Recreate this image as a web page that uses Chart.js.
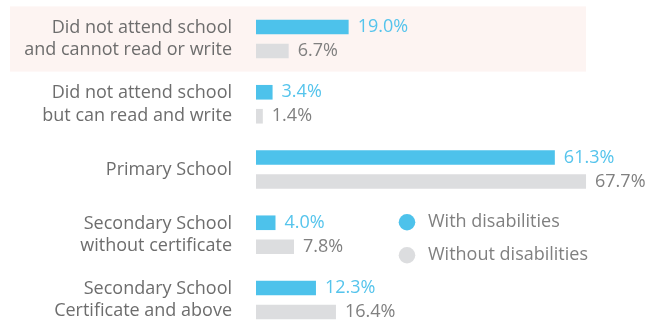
<!DOCTYPE html>
<html>
<head>
<meta charset="utf-8">
<script src="https://cdn.jsdelivr.net/npm/chart.js@4.4.1/dist/chart.umd.min.js"></script>
<style>
  html, body { margin: 0; padding: 0; background: #ffffff; }
  #wrap { width: 668px; height: 323px; }
</style>
</head>
<body>
<div id="wrap"><canvas id="chart" width="668" height="323"></canvas></div>
<script>
// Education level attained, share of people (%)
const categories = [
  ['Did not attend school', 'and cannot read or write'],
  ['Did not attend school', 'but can read and write'],
  'Primary School',
  ['Secondary School', 'without certificate'],
  ['Secondary School', 'Certificate and above']
];
const withDisabilities = [19.0, 3.4, 61.3, 4.0, 12.3];
const withoutDisabilities = [6.7, 1.4, 67.7, 7.8, 16.4];
const seriesNames = ['With disabilities', 'Without disabilities'];
const highlightedIndex = 0;

const BLUE = '#4dc2eb';
const GREY = '#dcdddf';
const BLUE_TEXT = '#55c4ec';
const GREY_TEXT = '#808080';
const LABEL_TEXT = '#6d6d6d';
const FONT = '"Open Sans", Lato, sans-serif';

// Soft band behind the highlighted category (painted before axes and bars)
const highlightBand = {
  id: 'highlightBand',
  beforeDraw(chart) {
    const y = chart.scales.y;
    const step = y.getPixelForValue(1) - y.getPixelForValue(0);
    const cy = y.getPixelForValue(highlightedIndex);
    const ctx = chart.ctx;
    ctx.save();
    ctx.fillStyle = '#fdf4f2';
    ctx.fillRect(10, cy - step / 2, 576, step);
    ctx.restore();
  }
};

// Percentage text after each bar
const valueLabels = {
  id: 'valueLabels',
  afterDatasetsDraw(chart) {
    const ctx = chart.ctx;
    ctx.save();
    ctx.font = '18px ' + FONT;
    ctx.textBaseline = 'middle';
    ctx.textAlign = 'left';
    chart.data.datasets.forEach((ds, di) => {
      const meta = chart.getDatasetMeta(di);
      ctx.fillStyle = di === 0 ? BLUE_TEXT : GREY_TEXT;
      meta.data.forEach((bar, i) => {
        ctx.fillText(ds.data[i].toFixed(1) + '%', bar.x + 9, bar.y);
      });
    });
    ctx.restore();
  }
};

// Dot legend placed inside the plot
const dotLegend = {
  id: 'dotLegend',
  afterDraw(chart) {
    const ctx = chart.ctx;
    const y = chart.scales.y;
    const cy = y.getPixelForValue(3);
    const x0 = 407;
    ctx.save();
    ctx.font = '18px ' + FONT;
    ctx.textBaseline = 'middle';
    ctx.textAlign = 'left';
    chart.data.datasets.forEach((ds, di) => {
      const yy = cy - 12.5 + di * 33;
      ctx.beginPath();
      ctx.arc(x0, yy, 8.3, 0, Math.PI * 2);
      ctx.fillStyle = ds.backgroundColor;
      ctx.fill();
      ctx.fillStyle = GREY_TEXT;
      ctx.fillText(ds.label, x0 + 21, yy);
    });
    ctx.restore();
  }
};

new Chart(document.getElementById('chart'), {
  type: 'bar',
  data: {
    labels: categories,
    datasets: [
      { label: seriesNames[0], data: withDisabilities, backgroundColor: BLUE },
      { label: seriesNames[1], data: withoutDisabilities, backgroundColor: GREY }
    ]
  },
  options: {
    indexAxis: 'y',
    responsive: false,
    animation: false,
    devicePixelRatio: 1,
    layout: { padding: { top: 39, bottom: 23, left: 0, right: 22 } },
    datasets: {
      bar: { categoryPercentage: 0.735, barPercentage: 0.61, clip: false }
    },
    plugins: {
      legend: { display: false },
      tooltip: { enabled: false }
    },
    scales: {
      x: {
        min: 0,
        max: 80,
        display: false
      },
      y: {
        offset: false,
        grid: { display: false, drawTicks: false },
        border: { display: false },
        afterFit(scale) {
          scale.width = 256;
          scale.paddingTop = 0;
          scale.paddingBottom = 0;
        },
        ticks: {
          autoSkip: false,
          padding: 24,
          color: LABEL_TEXT,
          font: { family: FONT, size: 18, lineHeight: 1.25 }
        }
      }
    }
  },
  plugins: [highlightBand, valueLabels, dotLegend]
});
</script>
</body>
</html>
